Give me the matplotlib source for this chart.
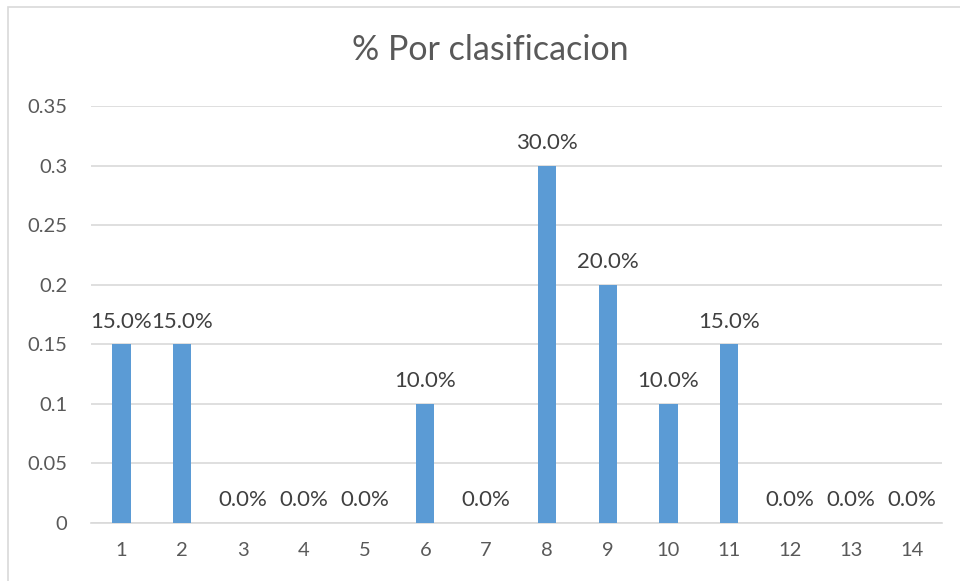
import matplotlib
matplotlib.use("Agg")
import matplotlib.pyplot as plt
from matplotlib.patches import Rectangle

categories = [str(i) for i in range(1, 15)]
values = [0.15, 0.15, 0.0, 0.0, 0.0, 0.10, 0.0, 0.30, 0.20, 0.10, 0.15, 0.0, 0.0, 0.0]
yticks = [0, 0.05, 0.1, 0.15, 0.2, 0.25, 0.3, 0.35]
ytick_labels = ["0", "0.05", "0.1", "0.15", "0.2", "0.25", "0.3", "0.35"]
title = "% Por clasificacion"

plt.rcParams['font.family'] = ['Lato', 'DejaVu Sans']
W, H = 960, 581
fig = plt.figure(figsize=(W / 100, H / 100), dpi=100)
fig.patches.append(Rectangle((8 / W, -0.1), 1, 1.1 - 7 / H, transform=fig.transFigure,
                             fill=False, edgecolor="#D9D9D9", linewidth=1.2))

left, right, top, bottom = 91, 942, 106, 523
ax = fig.add_axes([left / W, 1 - bottom / H, (right - left) / W, (bottom - top) / H])
x = list(range(len(categories)))
ax.bar(x, values, width=0.3, color="#5B9BD5", zorder=3)
ax.set_xlim(-0.5, len(categories) - 0.5)
ax.set_ylim(0, 0.35)
ax.set_yticks(yticks)
ax.set_yticklabels(ytick_labels)
ax.set_xticks(x)
ax.set_xticklabels(categories)
ax.grid(axis="y", color="#D9D9D9", linewidth=1.2, zorder=0)
for s in ["top", "right", "left"]:
    ax.spines[s].set_visible(False)
ax.spines["bottom"].set_color("#D9D9D9")
ax.spines["bottom"].set_linewidth(1.2)
ax.tick_params(length=0, labelsize=14.5, colors="#595959")
ax.tick_params(axis="x", pad=14)
ax.tick_params(axis="y", pad=17)
for xi, v in zip(x, values):
    ax.annotate(f"{v * 100:.1f}%", (xi, v), xytext=(0, 9), textcoords="offset points",
                ha="center", va="bottom", fontsize=16, color="#404040")
fig.text(490 / W, 1 - 50 / H, title, ha="center", va="center", fontsize=24.5, color="#595959")
fig.savefig("out.png", dpi=100)
